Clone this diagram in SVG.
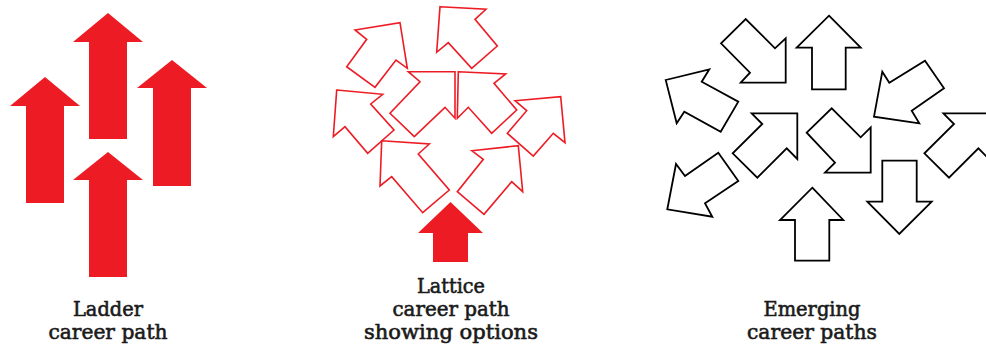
<svg xmlns="http://www.w3.org/2000/svg" width="986" height="345" viewBox="0 0 986 345">
<style>
.solid{fill:#ed1c24}
.red{fill:#fff;stroke:#ed1c24;stroke-width:1.6;stroke-linejoin:miter}
.blk{fill:#fff;stroke:#000;stroke-width:1.8;stroke-linejoin:miter}
.lbl{font-family:"DejaVu Serif","Liberation Serif",serif;font-size:20px;fill:#1a1a1a;stroke:#1a1a1a;stroke-width:0.6;text-anchor:middle}
</style>
<rect width="986" height="345" fill="#fff"/>
<g id="ladder">
<g id="ladder-a1"><polygon class="solid" points="45,77 80,106 64,106 64,203 26,203 26,106 10,106"/></g>
<g id="ladder-a2"><polygon class="solid" points="108,13 143,42 127,42 127,139 89,139 89,42 73,42"/></g>
<g id="ladder-a3"><polygon class="solid" points="172,60 207,88 191,88 191,186 153,186 153,88 137,88"/></g>
<g id="ladder-a4"><polygon class="solid" points="108,152 143,180 127,180 127,277 89,277 89,180 73,180"/></g>
</g>
<g id="lattice">
<g id="lattice-l1"><polygon class="red" points="355,30 400,22.7 407.3,68.3 396,60 375,87.3 346.7,66.7 366.7,39.3"/></g>
<g id="lattice-l2"><polygon class="red" points="440,6.7 486,9.3 475,19.3 497.3,46 471.7,68.3 448.3,42.7 436.7,52.3"/></g>
<g id="lattice-l3"><polygon class="red" points="408.3,71.7 455,71.7 455,118.3 445,107.3 414.3,136.7 390,113.3 420,81.7"/></g>
<g id="lattice-l4"><polygon class="red" points="458.3,71.7 505.7,74 494,83.3 516.7,110 491.7,133.3 468.3,107.3 457.3,118.3"/></g>
<g id="lattice-l5"><polygon class="red" points="336.7,90 382.7,94.3 370.7,104 394,130 367.7,153.3 345,126.7 333.3,136.7"/></g>
<g id="lattice-l6"><polygon class="red" points="515,100.7 560.7,96.7 565,142.7 553.3,133.3 533.3,156 507.3,133.3 526.7,110.7"/></g>
<g id="lattice-l7"><polygon class="red" points="381.7,140.7 429.3,144 418.3,154 449.3,190 422.7,212.7 391.7,176.7 380,186"/></g>
<g id="lattice-l8"><polygon class="red" points="471.7,150.7 518.3,145.7 522.7,191.7 511.7,181.7 484,214.3 457.3,191.7 483.3,159.3"/></g>
<g id="lattice-base"><polygon class="solid" points="450.5,202 483,233 468,233 468,262 433,262 433,233 418,233"/></g>
</g>
<g id="emerging">
<g id="emerging-e1"><polygon class="blk" points="721,43.3 745.7,19 775,48.3 785.7,38.3 785.7,82.7 740.7,82.7 750,72.7"/></g>
<g id="emerging-e2"><polygon class="blk" points="829,15.7 860.7,47.7 845.7,47.7 845.7,89.3 812,89.3 812,47.7 796.7,47.7"/></g>
<g id="emerging-e3"><polygon class="blk" points="665.7,80 709.3,69.3 701.7,81.7 738.3,101.7 720.7,131.7 684.3,111.7 676.7,123.3"/></g>
<g id="emerging-e4"><polygon class="blk" points="874,116.7 882.3,71.7 889.3,82.7 925,60.7 944,88.3 911.7,110.7 919.3,123.3"/></g>
<g id="emerging-e5"><polygon class="blk" points="751.7,113.3 797.3,113.3 797.3,159 786.7,148.3 757.3,177.7 732.7,153.3 762.3,124"/></g>
<g id="emerging-e6"><polygon class="blk" points="806.7,132.7 831.7,108.3 860.7,137.3 870.7,127.3 870.7,172.7 825,172.7 835,162.7"/></g>
<g id="emerging-e7"><polygon class="blk" points="943.4,113.3 989,113.3 989,159 978.4,148.3 949,177.7 924.4,153.3 954,124"/></g>
<g id="emerging-e8"><polygon class="blk" points="718.3,152.7 738.3,181 705,203.3 712.3,216.7 667.3,209.3 676,164 685,176"/></g>
<g id="emerging-e9"><polygon class="blk" points="812.3,187.7 843.3,220 829.3,220 829.3,260.7 795,260.7 795,220 780,220"/></g>
<g id="emerging-e10"><polygon class="blk" points="882.3,160.7 916.7,160.7 916.7,201.7 931.7,201.7 899.3,234 867.3,201.7 882.3,201.7"/></g>
</g>
<g id="connectors"></g>
<g id="label-ladder" class="lbl">
<text x="108" y="316" textLength="70" lengthAdjust="spacingAndGlyphs">Ladder</text>
<text x="108" y="339" textLength="119" lengthAdjust="spacingAndGlyphs">career path</text>
</g>
<g id="label-lattice" class="lbl">
<text x="451" y="293" textLength="68" lengthAdjust="spacingAndGlyphs">Lattice</text>
<text x="451" y="316" textLength="117" lengthAdjust="spacingAndGlyphs">career path</text>
<text x="451" y="339" textLength="174" lengthAdjust="spacingAndGlyphs">showing options</text>
</g>
<g id="label-emerging" class="lbl">
<text x="812" y="316" textLength="97" lengthAdjust="spacingAndGlyphs">Emerging</text>
<text x="812" y="339" textLength="130" lengthAdjust="spacingAndGlyphs">career paths</text>
</g>
</svg>
